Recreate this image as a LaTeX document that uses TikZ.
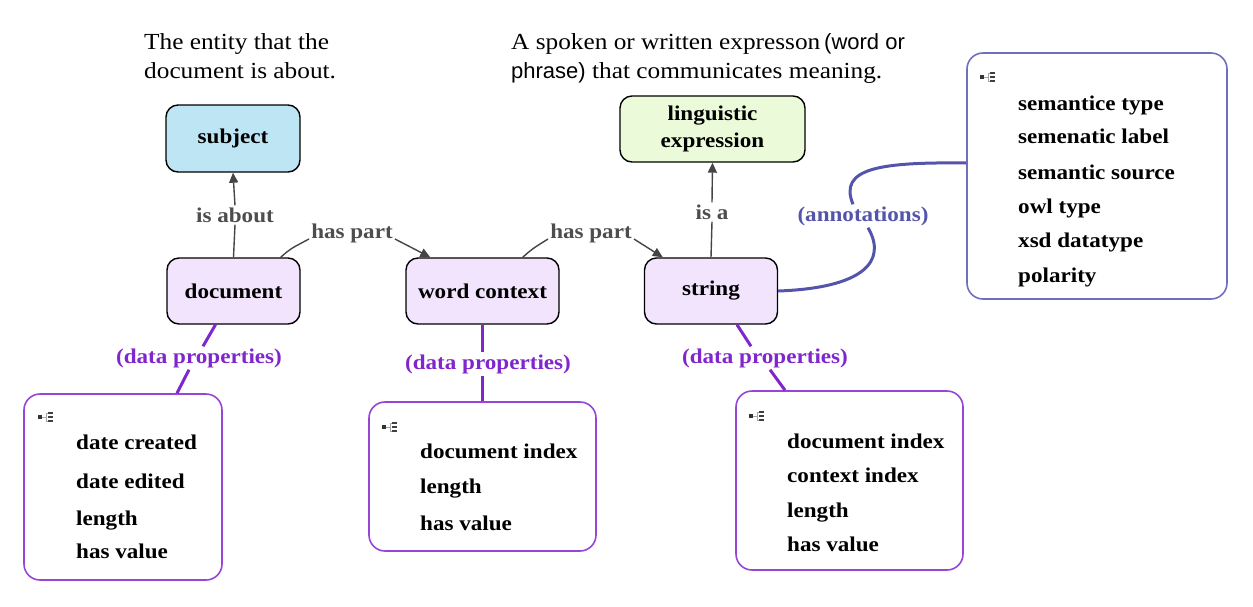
\documentclass[tikz,border=0pt]{standalone}
\usepackage{fontspec}
\setmainfont{Liberation Serif}[FakeStretch=1.1]
\newfontfamily\sansf{Liberation Sans}
\usetikzlibrary{arrows.meta}
\definecolor{edgecol}{HTML}{454545}
\definecolor{labcol}{HTML}{4D4D4D}
\definecolor{propcol}{RGB}{128,38,205}
\definecolor{propbox}{RGB}{150,70,215}
\definecolor{anncol}{HTML}{5454AA}
\definecolor{annbox}{HTML}{6F6FBF}
\definecolor{subjfill}{HTML}{BEE5F3}
\definecolor{lingfill}{HTML}{EBFBD9}
\definecolor{clsfill}{HTML}{F2E4FC}
\tikzset{
  cls/.style={draw=black, line width=1.4pt, rounded corners=12pt, align=center,
    font=\bfseries\fontsize{21}{27}\selectfont, inner sep=0pt},
  propsbox/.style={draw=propbox, line width=1.6pt, rounded corners=16pt, inner sep=0pt},
  annsbox/.style={draw=annbox, line width=1.6pt, rounded corners=16pt, inner sep=0pt},
  item/.style={anchor=base west, inner sep=0pt, font=\bfseries\fontsize{21}{24}\selectfont},
  elab/.style={text=labcol, inner sep=2pt, font=\bfseries\fontsize{21}{24}\selectfont},
  plab/.style={text=propcol, inner sep=2pt, font=\bfseries\fontsize{21}{24}\selectfont},
  alab/.style={text=anncol, inner sep=2pt, font=\bfseries\fontsize{21}{24}\selectfont},
  edge/.style={draw=edgecol, line width=1.4pt},
  arrowedge/.style={edge, -{Triangle[length=10pt,width=9pt]}},
  pline/.style={draw=propcol, line width=3pt},
  aline/.style={draw=anncol, line width=3pt},
  desc/.style={anchor=north west, align=left, inner sep=0pt, font=\fontsize{23}{29}\selectfont}
}
\newcommand\treeicon[2]{%
  \fill[black!80] (#1,#2-2) rectangle (#1+4,#2+2);
  \draw[black!35, line width=0.5pt] (#1+4,#2) -- (#1+8,#2) (#1+8,#2-4) -- (#1+8,#2+4)
    (#1+8,#2-4) -- (#1+10,#2-4) (#1+8,#2+4) -- (#1+10,#2+4);
  \fill[black!75] (#1+10,#2-5.2) rectangle (#1+15,#2-2.8);
  \fill[black!75] (#1+10,#2-1.2) rectangle (#1+15,#2+1.2);
  \fill[black!75] (#1+10,#2+2.8) rectangle (#1+15,#2+5.2);
}
\begin{document}
\begin{tikzpicture}[x=1pt,y=-1pt]
\useasboundingbox (0,0) rectangle (1253,606);

% descriptions
\node[desc] (d1) at (144,33) {The entity that the\\document is about.};
\node[desc] (d2) at (511,33) {A spoken or written expresson\,{\sansf\fontsize{22}{29}\selectfont(word or}\\{\sansf\fontsize{22}{29}\selectfont phrase)} that communicates meaning.};

% class nodes
\node[cls, fill=subjfill, minimum width=134pt, minimum height=67pt] (subj) at (233,138.5) {subject};
\node[cls, fill=lingfill, minimum width=185pt, minimum height=66pt] (ling) at (712.5,129) {linguistic\\expression};
\node[cls, fill=clsfill, minimum width=133pt, minimum height=66pt] (doc) at (233.5,291) {document};
\node[cls, fill=clsfill, minimum width=153pt, minimum height=66pt] (wc) at (482.5,291) {word context};
\node[cls, fill=clsfill, minimum width=133pt, minimum height=66pt] (str) at (711,291) {string};

% property boxes
\node[propsbox, minimum width=198pt, minimum height=186pt] (docprops) at (123,487) {};
\node[propsbox, minimum width=227pt, minimum height=149pt] (wcprops) at (482.5,476.5) {};
\node[propsbox, minimum width=227pt, minimum height=179pt] (strprops) at (849.5,480.5) {};
\node[annsbox, minimum width=260pt, minimum height=246pt] (anns) at (1097,176) {};

% icons
\treeicon{38}{417}
\treeicon{382}{427}
\treeicon{749}{416}
\treeicon{980}{77}

% items
\node[item] (i11) at (76,449) {date created};
\node[item] (i12) at (76,488) {date edited};
\node[item] (i13) at (76,525) {length};
\node[item] (i14) at (76,558) {has value};

\node[item] (i21) at (420,458) {document index};
\node[item] (i22) at (420,493) {length};
\node[item] (i23) at (420,530) {has value};

\node[item] (i31) at (787,448) {document index};
\node[item] (i32) at (787,482) {context index};
\node[item] (i33) at (787,517) {length};
\node[item] (i34) at (787,551) {has value};

\node[item] (i41) at (1018,110) {semantice type};
\node[item] (i42) at (1018,143) {semenatic label};
\node[item] (i43) at (1018,179) {semantic source};
\node[item] (i44) at (1018,213) {owl type};
\node[item] (i45) at (1018,247) {xsd datatype};
\node[item] (i46) at (1018,282) {polarity};

% edge labels
\node[elab] (isabout) at (235,215) {is about};
\node[elab] (hp1) at (352,233) {has part};
\node[elab] (hp2) at (591,233) {has part};
\node[elab] (isa) at (712,212) {is a};
\node[plab] (dp1) at (199,358) {(data properties)};
\node[plab] (dp2) at (488,364) {(data properties)};
\node[plab] (dp3) at (765,358) {(data properties)};
\node[alab] (ann) at (863,216) {(annotations)};

% edges
\draw[edge] (doc.north) -- (isabout.south);
\draw[arrowedge] (isabout.north) -- (subj.south);
\draw[edge] ([xshift=-20pt]doc.north east) .. controls (290,249) .. ([yshift=-6pt]hp1.west);
\draw[arrowedge] ([yshift=-6pt]hp1.east) -- ([xshift=25pt]wc.north west);
\draw[edge] ([xshift=-37pt]wc.north east) .. controls (532,249) .. ([yshift=-6pt]hp2.west);
\draw[arrowedge] ([yshift=-6pt]hp2.east) -- ([xshift=19pt]str.north west);
\draw[edge] (str.north) -- (isa.south);
\draw[arrowedge] (isa.north) -- (ling.south);

% data property connectors
\draw[pline] ([xshift=-18pt]doc.south) -- ([xshift=4pt]dp1.north);
\draw[pline] ([xshift=-10pt]dp1.south) -- ([xshift=54pt]docprops.north);
\draw[pline] (wc.south) -- (wc.south |- dp2.north);
\draw[pline] (wc.south |- dp2.south) -- (wcprops.north);
\draw[pline] ([xshift=26pt]str.south) -- ([xshift=-14pt]dp3.north);
\draw[pline] ([xshift=5pt]dp3.south) -- ([xshift=-64.5pt]strprops.north);

% annotations connector
\draw[aline] (str.east) .. controls (862,288) and (888,262) .. ([xshift=5pt]ann.south);
\draw[aline] ([xshift=-10pt]ann.north) .. controls (838,168) and (880,162) .. ([yshift=13pt]anns.west);
\end{tikzpicture}
\end{document}
